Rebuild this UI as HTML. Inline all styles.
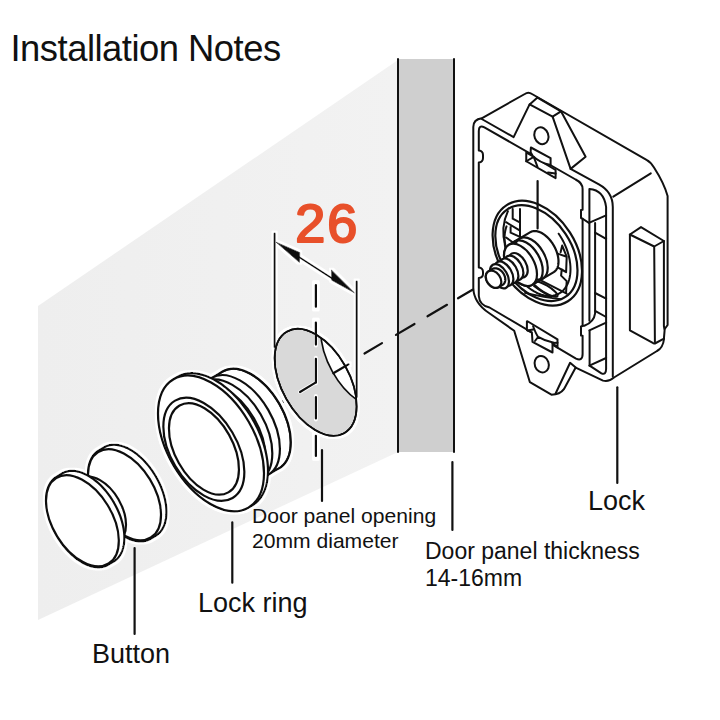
<!DOCTYPE html>
<html><head><meta charset="utf-8">
<style>
html,body{margin:0;padding:0;background:#fff;width:720px;height:720px;overflow:hidden}
svg{display:block}
text{font-family:"Liberation Sans",sans-serif;fill:#111}
</style></head><body>
<svg width="720" height="720" viewBox="0 0 720 720">
<defs><filter id="halo" x="0" y="0" width="720" height="720" filterUnits="userSpaceOnUse">
<feMorphology in="SourceAlpha" operator="dilate" radius="2.2" result="d"/>
<feGaussianBlur in="d" stdDeviation="0.7" result="b"/>
<feFlood flood-color="#fff" result="f"/>
<feComposite in="f" in2="b" operator="in" result="w"/>
<feMerge><feMergeNode in="w"/><feMergeNode in="SourceGraphic"/></feMerge>
</filter></defs>
<linearGradient id="wallg" x1="38" y1="0" x2="398" y2="0" gradientUnits="userSpaceOnUse"><stop offset="0" stop-color="#eeeeee"/><stop offset="1" stop-color="#f2f2f2"/></linearGradient>
<rect width="720" height="720" fill="#fff"/>
<polygon points="38,306 398,60 398,452 38,620" fill="url(#wallg)"/>
<rect x="398" y="59" width="56" height="393" fill="#cfcfcf"/>
<line x1="398" y1="59" x2="398" y2="452" stroke="#111" stroke-width="2" stroke-linecap="round" />
<line x1="454" y1="59" x2="454" y2="452" stroke="#111" stroke-width="2" stroke-linecap="round" />
<line x1="364.5" y1="353.48" x2="382" y2="343.15" stroke="#111" stroke-width="2.2" stroke-linecap="round" />
<line x1="396" y1="334.89" x2="414.5" y2="323.98" stroke="#111" stroke-width="2.2" stroke-linecap="round" />
<line x1="427.5" y1="316.31" x2="447" y2="304.8" stroke="#111" stroke-width="2.2" stroke-linecap="round" />
<line x1="458" y1="298.31" x2="472.5" y2="289.76" stroke="#111" stroke-width="2.2" stroke-linecap="round" />
<line x1="280" y1="403.33" x2="284" y2="400.97" stroke="#111" stroke-width="2.2" stroke-linecap="round" />
<g filter="url(#halo)">
<ellipse cx="315.65" cy="382.30" rx="58.35" ry="33.80" transform="rotate(60.67 315.65 382.30)" fill="#d9d9d9" stroke="#111" stroke-width="1.7" />
<clipPath id="h1"><ellipse cx="0" cy="0" rx="1" ry="1"/></clipPath>
<clipPath id="clipE1"><ellipse cx="315.65" cy="382.30" rx="58.35" ry="33.80" transform="rotate(60.67 315.65 382.30)" fill="#fff" stroke="#111" stroke-width="0" /></clipPath>
<g clip-path="url(#clipE1)"><ellipse cx="361.85" cy="355.00" rx="58.35" ry="33.80" transform="rotate(60.67 361.85 355.00)" fill="#fff" stroke="#111" stroke-width="1.7" /></g>
<ellipse cx="315.65" cy="382.30" rx="58.35" ry="33.80" transform="rotate(60.67 315.65 382.30)" fill="none" stroke="#111" stroke-width="1.7" />
<line x1="333.3" y1="373.3" x2="348.6" y2="364.3" stroke="#111" stroke-width="2.2" stroke-linecap="round" />
<line x1="315.9" y1="284" x2="315.9" y2="307.7" stroke="#fff" stroke-width="3.8" stroke-linecap="round" stroke-linecap="butt"/>
<line x1="315.9" y1="321.5" x2="315.9" y2="345.6" stroke="#fff" stroke-width="3.8" stroke-linecap="round" stroke-linecap="butt"/>
<line x1="315.9" y1="357.75" x2="315.9" y2="383.4" stroke="#fff" stroke-width="3.8" stroke-linecap="round" stroke-linecap="butt"/>
<line x1="315.9" y1="396" x2="315.9" y2="419.5" stroke="#fff" stroke-width="3.8" stroke-linecap="round" stroke-linecap="butt"/>
<line x1="315.9" y1="434.8" x2="315.9" y2="457" stroke="#fff" stroke-width="3.8" stroke-linecap="round" stroke-linecap="butt"/>
<line x1="315.9" y1="382.4" x2="300" y2="392" stroke="#fff" stroke-width="3.8" stroke-linecap="round" />
<line x1="315.9" y1="285" x2="315.9" y2="306.7" stroke="#111" stroke-width="2.2" stroke-linecap="round" stroke-linecap="butt"/>
<line x1="315.9" y1="322.5" x2="315.9" y2="344.6" stroke="#111" stroke-width="2.2" stroke-linecap="round" stroke-linecap="butt"/>
<line x1="315.9" y1="358.75" x2="315.9" y2="382.4" stroke="#111" stroke-width="2.2" stroke-linecap="round" stroke-linecap="butt"/>
<line x1="315.9" y1="397" x2="315.9" y2="418.5" stroke="#111" stroke-width="2.2" stroke-linecap="round" stroke-linecap="butt"/>
<line x1="315.9" y1="435.8" x2="315.9" y2="456" stroke="#111" stroke-width="2.2" stroke-linecap="round" stroke-linecap="butt"/>
<line x1="315.9" y1="382.4" x2="300" y2="392" stroke="#111" stroke-width="2.2" stroke-linecap="round" />
<ellipse cx="315.65" cy="382.30" rx="58.35" ry="33.80" transform="rotate(60.67 315.65 382.30)" fill="none" stroke="#111" stroke-width="1.8" />
<line x1="274.6" y1="233.7" x2="274.6" y2="347" stroke="#111" stroke-width="2.2" stroke-linecap="round" />
<line x1="356.7" y1="281.7" x2="356.7" y2="397" stroke="#111" stroke-width="2.2" stroke-linecap="round" />
<line x1="290" y1="251.2" x2="340" y2="283.5" stroke="#111" stroke-width="1.8" stroke-linecap="round" />
<polygon points="276.1,242.2 299.8,252.6 299.4,262.4" fill="#111" stroke="#111" stroke-width="0.8" stroke-linejoin="round"/>
<polygon points="354.4,292.8 331.5,270 331.7,280.2" fill="#111" stroke="#111" stroke-width="0.8" stroke-linejoin="round"/>
<path d="M290.80,442.45 L290.78,443.80 L290.73,445.09 L290.65,446.33 L290.54,447.51 L290.41,448.64 L290.25,449.72 L290.08,450.75 L289.88,451.73 L289.67,452.67 L289.44,453.57 L289.20,454.42 L288.94,455.24 L288.68,456.03 L288.40,456.78 L288.12,457.49 L287.82,458.18 L287.52,458.84 L287.21,459.47 L286.89,460.07 L286.57,460.65 L286.24,461.20 L285.90,461.74 L285.56,462.25 L285.21,462.74 L284.86,463.21 L284.50,463.66 L284.14,464.10 L283.77,464.52 L283.40,464.92 L283.03,465.30 L282.64,465.68 L282.26,466.03 L281.87,466.38 L281.47,466.71 L281.07,467.02 L280.66,467.33 L280.25,467.62 L279.83,467.90 L279.41,468.17 L253.17,483.64 L252.74,483.89 L252.29,484.12 L251.84,484.35 L251.38,484.56 L250.91,484.76 L250.44,484.95 L249.95,485.13 L249.46,485.30 L248.95,485.45 L248.44,485.60 L247.91,485.73 L247.38,485.85 L246.83,485.96 L246.27,486.06 L245.69,486.14 L245.11,486.21 L244.50,486.27 L243.88,486.31 L243.25,486.33 L242.60,486.34 L241.93,486.33 L241.24,486.30 L240.54,486.26 L239.81,486.19 L239.06,486.10 L238.29,485.99 L237.49,485.85 L236.67,485.69 L235.82,485.50 L234.95,485.28 L234.05,485.02 L233.12,484.73 L232.16,484.41 L231.17,484.04 L230.14,483.63 L229.08,483.18 L227.99,482.67 L226.87,482.12 L225.70,481.51 L224.51,480.84 L223.28,480.10 L222.01,479.30 L220.71,478.43 L219.37,477.49 L218.01,476.47 L216.61,475.37 L215.19,474.19 L213.74,472.92 L212.27,471.56 L210.79,470.12 L209.30,468.58 L207.80,466.96 L206.31,465.26 L204.82,463.47 L203.35,461.60 L201.90,459.66 L200.48,457.66 L199.10,455.59 L197.76,453.47 L196.48,451.32 L195.25,449.13 L194.09,446.91 L192.99,444.69 L191.97,442.47 L191.02,440.26 L190.14,438.06 L189.34,435.90 L188.62,433.77 L187.97,431.68 L187.40,429.64 L186.89,427.66 L186.46,425.73 L186.09,423.86 L185.78,422.06 L185.52,420.32 L185.33,418.65 L185.18,417.05 L185.08,415.50 L185.02,414.03 L185.00,412.61 L185.02,411.26 L185.07,409.96 L185.15,408.73 L185.26,407.55 L185.39,406.42 L185.55,405.34 L185.72,404.31 L185.92,403.33 L186.13,402.39 L186.36,401.49 L186.60,400.63 L186.86,399.82 L187.12,399.03 L187.40,398.28 L187.68,397.57 L187.98,396.88 L188.28,396.22 L188.59,395.59 L188.91,394.99 L189.23,394.41 L189.56,393.85 L189.90,393.32 L190.24,392.81 L190.59,392.32 L190.94,391.85 L191.30,391.40 L191.66,390.96 L192.03,390.54 L192.40,390.14 L192.77,389.75 L193.16,389.38 L193.54,389.02 L193.93,388.68 L194.33,388.35 L194.73,388.04 L195.14,387.73 L195.55,387.44 L195.97,387.16 L196.39,386.89 L222.63,371.41 L223.06,371.17 L223.51,370.93 L223.96,370.71 L224.42,370.50 L224.89,370.30 L225.36,370.11 L225.85,369.93 L226.34,369.76 L226.85,369.61 L227.36,369.46 L227.89,369.33 L228.42,369.21 L228.97,369.10 L229.53,369.00 L230.11,368.92 L230.69,368.85 L231.30,368.79 L231.92,368.75 L232.55,368.73 L233.20,368.72 L233.87,368.73 L234.56,368.75 L235.26,368.80 L235.99,368.87 L236.74,368.96 L237.51,369.07 L238.31,369.20 L239.13,369.37 L239.98,369.56 L240.85,369.78 L241.75,370.04 L242.68,370.32 L243.64,370.65 L244.63,371.02 L245.66,371.43 L246.72,371.88 L247.81,372.38 L248.93,372.94 L250.10,373.55 L251.29,374.22 L252.52,374.95 L253.79,375.75 L255.09,376.62 L256.43,377.57 L257.79,378.59 L259.19,379.69 L260.61,380.87 L262.06,382.14 L263.53,383.50 L265.01,384.94 L266.50,386.47 L268.00,388.09 L269.49,389.80 L270.98,391.59 L272.45,393.45 L273.90,395.39 L275.32,397.40 L276.70,399.47 L278.04,401.58 L279.32,403.74 L280.55,405.93 L281.71,408.14 L282.81,410.37 L283.83,412.59 L284.78,414.80 L285.66,417.00 L286.46,419.16 L287.18,421.29 L287.83,423.38 L288.40,425.42 L288.91,427.40 L289.34,429.33 L289.71,431.19 L290.02,433.00 L290.28,434.73 L290.47,436.41 L290.62,438.01 L290.72,439.55 L290.78,441.03Z" fill="#fff" stroke="#111" stroke-width="2.2" stroke-linejoin="round"/>
<ellipse cx="250.80" cy="419.92" rx="56.09" ry="32.79" transform="rotate(59.77 250.80 419.92)" fill="none" stroke="#111" stroke-width="2.2" />
<ellipse cx="239.90" cy="426.35" rx="56.09" ry="32.79" transform="rotate(59.77 239.90 426.35)" fill="#fff" stroke="#111" stroke-width="2.2" />
<ellipse cx="232.30" cy="430.83" rx="56.09" ry="32.79" transform="rotate(59.77 232.30 430.83)" fill="#fff" stroke="#111" stroke-width="2.2" />
<ellipse cx="225.60" cy="434.79" rx="56.09" ry="32.79" transform="rotate(59.77 225.60 434.79)" fill="#fff" stroke="#111" stroke-width="2.2" />
<ellipse cx="224.00" cy="435.73" rx="56.09" ry="32.79" transform="rotate(59.77 224.00 435.73)" fill="#fff" stroke="#111" stroke-width="1.2" />
<path d="M268.00,470.89 L267.98,472.68 L267.91,474.40 L267.80,476.04 L267.66,477.60 L267.48,479.10 L267.27,480.52 L267.04,481.89 L266.78,483.19 L266.50,484.43 L266.20,485.62 L265.88,486.76 L265.54,487.85 L265.19,488.88 L264.82,489.88 L264.44,490.83 L264.05,491.74 L263.65,492.61 L263.24,493.44 L262.82,494.24 L262.39,495.01 L261.95,495.74 L261.51,496.45 L261.05,497.13 L260.59,497.78 L260.13,498.40 L259.66,499.00 L259.18,499.58 L258.69,500.13 L258.20,500.67 L257.70,501.18 L257.19,501.67 L256.68,502.14 L256.16,502.60 L255.64,503.03 L255.11,503.45 L254.57,503.86 L254.02,504.24 L253.47,504.61 L252.90,504.97 L248.33,507.67 L247.75,507.99 L247.16,508.30 L246.56,508.60 L245.95,508.88 L245.33,509.15 L244.70,509.40 L244.06,509.63 L243.40,509.86 L242.74,510.06 L242.06,510.26 L241.36,510.43 L240.65,510.59 L239.92,510.74 L239.18,510.87 L238.42,510.98 L237.64,511.07 L236.84,511.14 L236.02,511.20 L235.18,511.23 L234.32,511.24 L233.43,511.23 L232.52,511.19 L231.59,511.13 L230.62,511.04 L229.63,510.92 L228.61,510.78 L227.55,510.60 L226.46,510.38 L225.34,510.12 L224.19,509.83 L222.99,509.49 L221.76,509.11 L220.49,508.68 L219.17,508.19 L217.81,507.65 L216.41,507.05 L214.96,506.38 L213.47,505.65 L211.93,504.84 L210.35,503.95 L208.72,502.98 L207.04,501.92 L205.31,500.76 L203.54,499.51 L201.73,498.16 L199.88,496.70 L198.00,495.14 L196.08,493.45 L194.14,491.66 L192.17,489.74 L190.20,487.71 L188.21,485.57 L186.23,483.31 L184.26,480.94 L182.31,478.46 L180.39,475.89 L178.51,473.23 L176.68,470.50 L174.91,467.69 L173.21,464.83 L171.59,461.93 L170.04,459.00 L168.59,456.06 L167.23,453.11 L165.97,450.18 L164.81,447.27 L163.76,444.40 L162.80,441.58 L161.94,438.81 L161.18,436.11 L160.51,433.48 L159.93,430.93 L159.44,428.46 L159.03,426.07 L158.69,423.77 L158.43,421.55 L158.24,419.42 L158.10,417.38 L158.02,415.42 L158.00,413.55 L158.02,411.76 L158.09,410.04 L158.20,408.40 L158.34,406.84 L158.52,405.34 L158.73,403.92 L158.96,402.55 L159.22,401.25 L159.50,400.01 L159.80,398.82 L160.12,397.68 L160.46,396.59 L160.81,395.56 L161.18,394.56 L161.56,393.61 L161.95,392.70 L162.35,391.83 L162.76,391.00 L163.18,390.20 L163.61,389.43 L164.05,388.70 L164.49,387.99 L164.95,387.31 L165.41,386.66 L165.87,386.04 L166.34,385.44 L166.82,384.86 L167.31,384.31 L167.80,383.77 L168.30,383.26 L168.81,382.77 L169.32,382.30 L169.84,381.84 L170.36,381.41 L170.89,380.99 L171.43,380.58 L171.98,380.20 L172.53,379.83 L173.10,379.47 L177.67,376.77 L178.25,376.45 L178.84,376.14 L179.44,375.84 L180.05,375.56 L180.67,375.29 L181.30,375.04 L181.94,374.81 L182.60,374.58 L183.26,374.38 L183.94,374.18 L184.64,374.01 L185.35,373.85 L186.08,373.70 L186.82,373.57 L187.58,373.46 L188.36,373.37 L189.16,373.30 L189.98,373.24 L190.82,373.21 L191.68,373.20 L192.57,373.21 L193.48,373.25 L194.41,373.31 L195.38,373.40 L196.37,373.52 L197.39,373.66 L198.45,373.84 L199.54,374.06 L200.66,374.32 L201.81,374.61 L203.01,374.95 L204.24,375.33 L205.51,375.76 L206.83,376.25 L208.19,376.79 L209.59,377.39 L211.04,378.06 L212.53,378.79 L214.07,379.60 L215.65,380.49 L217.28,381.46 L218.96,382.52 L220.69,383.68 L222.46,384.93 L224.27,386.28 L226.12,387.74 L228.00,389.30 L229.92,390.99 L231.86,392.78 L233.83,394.70 L235.80,396.73 L237.79,398.87 L239.77,401.13 L241.74,403.50 L243.69,405.98 L245.61,408.55 L247.49,411.21 L249.32,413.94 L251.09,416.75 L252.79,419.61 L254.41,422.51 L255.96,425.44 L257.41,428.38 L258.77,431.33 L260.03,434.26 L261.19,437.17 L262.24,440.04 L263.20,442.86 L264.06,445.63 L264.82,448.33 L265.49,450.96 L266.07,453.51 L266.56,455.98 L266.97,458.37 L267.31,460.67 L267.57,462.89 L267.76,465.02 L267.90,467.06 L267.98,469.02Z" fill="#fff" stroke="#111" stroke-width="2.2" stroke-linejoin="round"/>
<ellipse cx="211.00" cy="443.40" rx="74.32" ry="43.44" transform="rotate(59.77 211.00 443.40)" fill="#fff" stroke="#111" stroke-width="2.2" />
<ellipse cx="203.85" cy="449.30" rx="56.52" ry="33.14" transform="rotate(59.44 203.85 449.30)" fill="#fff" stroke="#111" stroke-width="2.2" />
<ellipse cx="203.95" cy="448.95" rx="49.78" ry="28.82" transform="rotate(60.71 203.95 448.95)" fill="#fff" stroke="#111" stroke-width="2.2" />
<path d="M166.50,512.01 L166.48,513.24 L166.44,514.42 L166.36,515.55 L166.26,516.63 L166.14,517.66 L166.00,518.64 L165.84,519.58 L165.66,520.48 L165.47,521.34 L165.26,522.15 L165.04,522.94 L164.81,523.68 L164.56,524.40 L164.31,525.08 L164.05,525.74 L163.78,526.36 L163.51,526.96 L163.22,527.54 L162.93,528.09 L162.64,528.62 L162.33,529.12 L162.03,529.61 L161.72,530.08 L161.40,530.52 L161.08,530.95 L160.75,531.37 L160.42,531.76 L160.09,532.15 L159.75,532.51 L159.41,532.87 L159.06,533.20 L158.71,533.53 L158.35,533.84 L157.99,534.14 L157.62,534.43 L157.25,534.71 L156.87,534.98 L156.49,535.23 L156.10,535.48 L150.21,539.01 L149.81,539.23 L149.40,539.45 L148.99,539.65 L148.57,539.84 L148.14,540.03 L147.71,540.20 L147.27,540.36 L146.82,540.52 L146.36,540.66 L145.89,540.79 L145.41,540.91 L144.92,541.03 L144.42,541.12 L143.91,541.21 L143.38,541.29 L142.85,541.35 L142.30,541.40 L141.73,541.44 L141.15,541.46 L140.56,541.47 L139.95,541.46 L139.32,541.44 L138.68,541.39 L138.01,541.33 L137.33,541.25 L136.62,541.15 L135.90,541.03 L135.15,540.88 L134.38,540.70 L133.58,540.50 L132.76,540.27 L131.91,540.00 L131.03,539.71 L130.13,539.37 L129.19,539.00 L128.23,538.58 L127.23,538.12 L126.20,537.62 L125.14,537.06 L124.05,536.45 L122.93,535.78 L121.77,535.05 L120.58,534.26 L119.36,533.39 L118.12,532.46 L116.84,531.46 L115.55,530.38 L114.23,529.22 L112.89,527.98 L111.53,526.67 L110.17,525.27 L108.81,523.79 L107.44,522.23 L106.08,520.60 L104.74,518.90 L103.42,517.13 L102.13,515.30 L100.87,513.41 L99.65,511.48 L98.48,509.51 L97.36,507.51 L96.29,505.49 L95.29,503.47 L94.36,501.44 L93.49,499.42 L92.69,497.42 L91.96,495.44 L91.30,493.50 L90.71,491.59 L90.19,489.73 L89.73,487.92 L89.33,486.16 L88.99,484.46 L88.71,482.82 L88.48,481.23 L88.30,479.70 L88.16,478.24 L88.07,476.83 L88.02,475.48 L88.00,474.19 L88.02,472.96 L88.06,471.78 L88.14,470.65 L88.24,469.57 L88.36,468.54 L88.50,467.56 L88.66,466.62 L88.84,465.72 L89.03,464.86 L89.24,464.05 L89.46,463.26 L89.69,462.52 L89.94,461.80 L90.19,461.12 L90.45,460.46 L90.72,459.84 L90.99,459.24 L91.28,458.66 L91.57,458.11 L91.86,457.58 L92.17,457.08 L92.47,456.59 L92.78,456.12 L93.10,455.68 L93.42,455.25 L93.75,454.83 L94.08,454.44 L94.41,454.05 L94.75,453.69 L95.09,453.33 L95.44,453.00 L95.79,452.67 L96.15,452.36 L96.51,452.06 L96.88,451.77 L97.25,451.49 L97.63,451.22 L98.01,450.97 L98.40,450.72 L104.29,447.19 L104.69,446.97 L105.10,446.75 L105.51,446.55 L105.93,446.36 L106.36,446.17 L106.79,446.00 L107.23,445.84 L107.68,445.68 L108.14,445.54 L108.61,445.41 L109.09,445.29 L109.58,445.17 L110.08,445.08 L110.59,444.99 L111.12,444.91 L111.65,444.85 L112.20,444.80 L112.77,444.76 L113.35,444.74 L113.94,444.73 L114.55,444.74 L115.18,444.76 L115.82,444.81 L116.49,444.87 L117.17,444.95 L117.88,445.05 L118.60,445.17 L119.35,445.32 L120.12,445.50 L120.92,445.70 L121.74,445.93 L122.59,446.20 L123.47,446.49 L124.37,446.83 L125.31,447.20 L126.27,447.62 L127.27,448.08 L128.30,448.58 L129.36,449.14 L130.45,449.75 L131.57,450.42 L132.73,451.15 L133.92,451.94 L135.14,452.81 L136.38,453.74 L137.66,454.74 L138.95,455.82 L140.27,456.98 L141.61,458.22 L142.97,459.53 L144.33,460.93 L145.69,462.41 L147.06,463.97 L148.42,465.60 L149.76,467.30 L151.08,469.07 L152.37,470.90 L153.63,472.79 L154.85,474.72 L156.02,476.69 L157.14,478.69 L158.21,480.71 L159.21,482.73 L160.14,484.76 L161.01,486.78 L161.81,488.78 L162.54,490.76 L163.20,492.70 L163.79,494.61 L164.31,496.47 L164.77,498.28 L165.17,500.04 L165.51,501.74 L165.79,503.38 L166.02,504.97 L166.20,506.50 L166.34,507.96 L166.43,509.37 L166.48,510.72Z" fill="#fff" stroke="#111" stroke-width="2.2" stroke-linejoin="round"/>
<ellipse cx="124.50" cy="494.75" rx="50.20" ry="29.71" transform="rotate(58.40 124.50 494.75)" fill="#fff" stroke="#111" stroke-width="2.2" />
<ellipse cx="100.00" cy="510.00" rx="36.46" ry="21.31" transform="rotate(59.77 100.00 510.00)" fill="#fff" stroke="#111" stroke-width="2.2" />
<path d="M124.40,537.90 L124.38,539.13 L124.34,540.31 L124.26,541.43 L124.17,542.51 L124.04,543.54 L123.90,544.52 L123.74,545.45 L123.56,546.35 L123.37,547.20 L123.16,548.02 L122.94,548.80 L122.71,549.55 L122.47,550.26 L122.22,550.94 L121.96,551.59 L121.69,552.22 L121.41,552.82 L121.13,553.39 L120.84,553.94 L120.55,554.47 L120.25,554.97 L119.94,555.45 L119.63,555.92 L119.31,556.37 L118.99,556.80 L118.67,557.21 L118.34,557.60 L118.01,557.98 L117.67,558.35 L117.33,558.70 L116.98,559.04 L116.63,559.36 L116.27,559.68 L115.91,559.98 L115.54,560.27 L115.17,560.54 L114.80,560.81 L114.42,561.06 L114.03,561.31 L108.04,564.89 L107.64,565.11 L107.24,565.33 L106.82,565.53 L106.41,565.72 L105.98,565.90 L105.55,566.08 L105.11,566.24 L104.66,566.39 L104.20,566.53 L103.73,566.67 L103.25,566.79 L102.76,566.90 L102.26,567.00 L101.75,567.09 L101.23,567.16 L100.70,567.22 L100.15,567.27 L99.59,567.31 L99.01,567.33 L98.42,567.34 L97.81,567.33 L97.18,567.31 L96.54,567.27 L95.88,567.21 L95.19,567.13 L94.49,567.02 L93.77,566.90 L93.02,566.75 L92.25,566.58 L91.46,566.37 L90.64,566.14 L89.79,565.88 L88.91,565.58 L88.01,565.25 L87.08,564.88 L86.12,564.46 L85.12,564.01 L84.10,563.50 L83.04,562.94 L81.95,562.33 L80.83,561.67 L79.68,560.94 L78.49,560.15 L77.28,559.29 L76.04,558.36 L74.76,557.36 L73.47,556.28 L72.15,555.13 L70.82,553.89 L69.47,552.58 L68.11,551.18 L66.75,549.71 L65.39,548.16 L64.03,546.53 L62.70,544.83 L61.38,543.07 L60.09,541.24 L58.83,539.36 L57.62,537.43 L56.45,535.47 L55.33,533.48 L54.27,531.46 L53.27,529.44 L52.34,527.42 L51.48,525.41 L50.68,523.41 L49.95,521.44 L49.29,519.50 L48.70,517.60 L48.18,515.75 L47.72,513.94 L47.33,512.19 L46.99,510.49 L46.71,508.85 L46.48,507.27 L46.30,505.75 L46.16,504.28 L46.07,502.88 L46.02,501.54 L46.00,500.25 L46.02,499.02 L46.06,497.84 L46.14,496.72 L46.23,495.64 L46.36,494.61 L46.50,493.63 L46.66,492.70 L46.84,491.80 L47.03,490.95 L47.24,490.13 L47.46,489.35 L47.69,488.60 L47.93,487.89 L48.18,487.21 L48.44,486.56 L48.71,485.93 L48.99,485.33 L49.27,484.76 L49.56,484.21 L49.85,483.68 L50.15,483.18 L50.46,482.70 L50.77,482.23 L51.09,481.78 L51.41,481.35 L51.73,480.94 L52.06,480.55 L52.39,480.17 L52.73,479.80 L53.07,479.45 L53.42,479.11 L53.77,478.79 L54.13,478.47 L54.49,478.17 L54.86,477.88 L55.23,477.61 L55.60,477.34 L55.98,477.09 L56.37,476.84 L62.36,473.26 L62.76,473.04 L63.16,472.82 L63.58,472.62 L63.99,472.43 L64.42,472.25 L64.85,472.07 L65.29,471.91 L65.74,471.76 L66.20,471.62 L66.67,471.48 L67.15,471.36 L67.64,471.25 L68.14,471.15 L68.65,471.06 L69.17,470.99 L69.70,470.93 L70.25,470.88 L70.81,470.84 L71.39,470.82 L71.98,470.81 L72.59,470.82 L73.22,470.84 L73.86,470.88 L74.52,470.94 L75.21,471.02 L75.91,471.13 L76.63,471.25 L77.38,471.40 L78.15,471.57 L78.94,471.78 L79.76,472.01 L80.61,472.27 L81.49,472.57 L82.39,472.90 L83.32,473.27 L84.28,473.69 L85.28,474.14 L86.30,474.65 L87.36,475.21 L88.45,475.82 L89.57,476.48 L90.72,477.21 L91.91,478.00 L93.12,478.86 L94.36,479.79 L95.64,480.79 L96.93,481.87 L98.25,483.02 L99.58,484.26 L100.93,485.57 L102.29,486.97 L103.65,488.44 L105.01,489.99 L106.37,491.62 L107.70,493.32 L109.02,495.08 L110.31,496.91 L111.57,498.79 L112.78,500.72 L113.95,502.68 L115.07,504.67 L116.13,506.69 L117.13,508.71 L118.06,510.73 L118.92,512.74 L119.72,514.74 L120.45,516.71 L121.11,518.65 L121.70,520.55 L122.22,522.40 L122.68,524.21 L123.07,525.96 L123.41,527.66 L123.69,529.30 L123.92,530.88 L124.10,532.40 L124.24,533.87 L124.33,535.27 L124.38,536.61Z" fill="#fff" stroke="#111" stroke-width="2.2" stroke-linejoin="round"/>
<ellipse cx="82.40" cy="520.75" rx="50.16" ry="29.65" transform="rotate(58.54 82.40 520.75)" fill="#fff" stroke="#111" stroke-width="2.2" />
</g>
<line x1="322" y1="450" x2="322" y2="501" stroke="#111" stroke-width="2.2" stroke-linecap="round" />
<line x1="452.4" y1="462" x2="452.4" y2="530" stroke="#111" stroke-width="2.2" stroke-linecap="round" />
<line x1="232.3" y1="522.4" x2="232.3" y2="582.7" stroke="#111" stroke-width="2.2" stroke-linecap="round" />
<line x1="134.6" y1="548" x2="134.6" y2="634" stroke="#111" stroke-width="2.2" stroke-linecap="round" />
<line x1="617.3" y1="387.3" x2="617.3" y2="483" stroke="#111" stroke-width="2.2" stroke-linecap="round" />
<g fill="none" stroke="#111" stroke-width="2" stroke-linejoin="round" stroke-linecap="round">
<path fill="#fff" d="M473.3,288 L473.3,127 Q473.3,119.5 481.7,118.3 L524.8,94 Q528.3,91.4 532,94 L646.5,159.9 Q650.5,162 654,167.5 Q664,183 667.6,196 L667.6,325 L664,330 L664,339 Q663,348 657,351 L614,377.5 Q609,382 603,380.6 L575.7,367.6 L563.9,389.2 Q560,394.7 551.4,394.7 L529.9,382.2 L514.2,330.8 L489,313 Q473.8,303 473.3,288 Z"/>
<path d="M481.7,119 L513.6,137.1 L529.6,104.4 L537.5,97.6"/>
<path d="M529.6,104.4 L552.6,116.7 L561,111.3 L537.5,97.6"/>
<path d="M552.6,116.7 L570.6,168.9 L585.6,156.7 L561,111.3"/>
<path d="M570.6,168.9 L598.9,184.4 Q612.8,192 612.8,207 L612.8,376.5"/>
<path d="M613.3,196.7 L650.8,173.3"/>
<path d="M478.8,131 L478.8,150.5 Q483,151 483,155 L483,158 Q483,162 478.8,162.5 L478.8,267.5 Q483,268 483,272 L483,274 Q483,277.5 478.8,278 L478.8,296 Q479.5,305.5 489.5,307.5 L576,358.6 Q582.6,361.5 582.6,354 L582.6,335.8 L581,335.5 L581,326.5 L582.6,326 L582.6,218.75 L581,218 L581,210 L582.6,209.7 L582.6,189 Q582.6,183 575.6,179.5 L484.4,127.4 Q478.8,124.5 478.8,131 Z"/>
<path d="M555.6,393.5 L570.1,362.8 L575.7,367.6"/>
<path d="M589.4,320.8 L589.4,188.9 Q604,190 606.1,207 L606.1,369 Q606,375.5 601.4,373.3 L589.6,365.7 L589.6,330.8"/>
<path d="M582.6,218.75 L588.9,222.9 L606.1,215.3"/>
<path d="M595.1,222.9 L595.1,313.3 Q594,322 584.3,325.8 L582.6,325.8"/>
<path d="M595.1,232.6 L606.1,238.9 M595.1,293 L606.1,298.6 M595.1,310.8 L606.1,317 M589.4,330.3 L606.1,322.6 M589.4,365.7 L606.1,358"/>
<path fill="#fff" d="M629.9,234.5 L641,227.1 L663.9,241 L663.9,326 L664.6,330.3 L663.9,338.6 L654.9,343.5 Q653.5,343.8 652.8,342.8 L629.9,330.3 Z"/>
<path d="M629.9,234.5 L654.2,246.5 L663.9,241 M654.2,246.5 L654.9,342"/>
<ellipse cx="541.4" cy="135.7" rx="6.9" ry="8.6" transform="rotate(-20 541.4 135.7)"/>
<ellipse cx="541.7" cy="364.2" rx="7.0" ry="8.4" transform="rotate(-20 541.7 364.2)"/>
<path fill="#fff" d="M526.25,152.5 L526.25,161.25 L555.6,178.1 L555.6,170 Z"/>
<path fill="#fff" d="M530.9,147.5 L550.6,158.1 L550.6,165 Q540,163 532.5,155.6 L530.6,152.2 Z"/>
<path d="M526.25,161.25 L533.75,156.9 L537.5,166.9 M548,172.5 L555.6,173.6"/>
<path fill="#fff" d="M527.5,321.25 L557.5,339.4 L557.5,347.5 L552.5,343.1 L552.5,352.5 L532.5,341.9 L531.9,332.5 L526.9,330 L526.9,321.5 Z"/>
<path d="M533.1,326.25 Q536,334 538.1,336.9 Q545,341 553.75,342.8 M527.5,330.6 L533.1,329.4 M535,341 L538.1,337 M552.5,343.1 L557.5,342.8"/>
</g>
<ellipse cx="537.30" cy="253.15" rx="56.98" ry="38.62" transform="rotate(57.51 537.30 253.15)" fill="#fff" stroke="#111" stroke-width="2.2" />
<ellipse cx="536.40" cy="253.15" rx="52.52" ry="34.93" transform="rotate(56.49 536.40 253.15)" fill="#fff" stroke="#111" stroke-width="2.2" />
<path d="M558.71,233.70 L560.49,236.43 L562.15,239.25 L563.68,242.14 L565.07,245.10 L566.32,248.11 L567.41,251.14 L568.34,254.20 L569.11,257.25 L569.72,260.28 L570.15,263.28 L570.41,266.23 L570.50,269.12 L570.41,271.93 L570.15,274.64 L569.72,277.24 L569.11,279.72 L568.34,282.07 L567.41,284.26 L566.32,286.30 L565.07,288.16 L563.68,289.85 L562.15,291.34 L560.49,292.64 L558.71,293.74 L556.82,294.62 L554.82,295.29 L552.74,295.74 L550.57,295.97 L548.33,295.98 L546.04,295.76 L543.70,295.33 L541.33,294.67 L538.94,293.81 L536.54,292.73 L534.15,291.44 L531.77,289.96 L529.42,288.29 L527.12,286.44 L524.87,284.42 L522.69,282.23 L520.59,279.90 L518.57,277.43 L516.66,274.83 L514.85,272.13 L513.17,269.32 L511.61,266.44 L510.20,263.50 L508.92,260.50 L507.80,257.47 L506.83,254.42 L506.03,251.36 L505.39,248.32 L504.92,245.32 L504.63,242.35 L504.50,239.45 L504.56,236.63 L504.78,233.89 L505.18,231.27 L505.75,228.76 L506.49,226.39" fill="none" stroke="#111" stroke-width="2" stroke-linejoin="round" stroke-linecap="round" />
<path d="M508.2,210.4 Q500,228 505.4,245.1" fill="none" stroke="#111" stroke-width="2"/>
<path d="M512.7,209 L512.7,218.75 L519.3,222.2 M520,209 L520,237.5 M506.1,222.2 L520,230.6 M510.6,227 L510.6,232.6 L520,236.8 M506.1,237.5 L513.75,243" fill="none" stroke="#111" stroke-width="2" stroke-linecap="round"/>
<path d="M562.2,245.6 L566.7,256.7 L566.1,272.2 L561.7,269.4 L561.1,275.6 L566.7,281.1 L566.1,292.2 M558.3,253.9 L566.7,256.7 M558.6,267.8 L566.1,272.2 M562.2,245.6 L560.6,252.2" fill="none" stroke="#111" stroke-width="2" stroke-linejoin="round" stroke-linecap="round"/>
<path d="M538.9,279.4 L566.7,293.6 M534,286 Q543,293 551.4,296.4 M525,292.9 Q545,297.5 561.1,299.2" fill="none" stroke="#111" stroke-width="2" stroke-linecap="round"/>
<ellipse cx="545.3" cy="288.8" rx="14.2" ry="3.6" transform="rotate(31 545.3 288.8)" fill="none" stroke="#111" stroke-width="2"/>
<line x1="537.6" y1="181" x2="537.6" y2="228.5" stroke="#111" stroke-width="2.2" stroke-linecap="round" />
<path d="M558.50,261.46 L558.49,262.02 L558.47,262.55 L558.44,263.06 L558.39,263.55 L558.34,264.01 L558.27,264.46 L558.20,264.88 L558.12,265.29 L558.03,265.67 L557.94,266.04 L557.84,266.40 L557.73,266.74 L557.62,267.06 L557.51,267.37 L557.39,267.66 L557.27,267.95 L557.15,268.22 L557.02,268.48 L556.89,268.73 L556.75,268.97 L556.62,269.20 L556.48,269.41 L556.34,269.63 L556.19,269.83 L556.05,270.02 L555.90,270.21 L555.75,270.39 L555.60,270.56 L555.45,270.73 L555.29,270.89 L555.14,271.04 L554.98,271.19 L554.82,271.33 L554.65,271.46 L554.49,271.60 L554.32,271.72 L554.15,271.84 L553.98,271.96 L553.80,272.07 L532.12,284.86 L531.94,284.96 L531.76,285.06 L531.57,285.15 L531.38,285.23 L531.19,285.32 L530.99,285.40 L530.79,285.47 L530.59,285.54 L530.38,285.60 L530.17,285.66 L529.95,285.72 L529.73,285.77 L529.50,285.81 L529.27,285.85 L529.04,285.89 L528.79,285.92 L528.54,285.94 L528.29,285.96 L528.03,285.97 L527.76,285.97 L527.48,285.97 L527.20,285.95 L526.91,285.94 L526.61,285.91 L526.30,285.87 L525.98,285.83 L525.65,285.77 L525.31,285.70 L524.97,285.62 L524.61,285.53 L524.23,285.43 L523.85,285.31 L523.45,285.17 L523.04,285.02 L522.62,284.85 L522.18,284.66 L521.73,284.46 L521.27,284.23 L520.79,283.98 L520.30,283.70 L519.79,283.40 L519.27,283.07 L518.73,282.71 L518.18,282.32 L517.61,281.90 L517.04,281.44 L516.45,280.96 L515.86,280.43 L515.25,279.87 L514.64,279.28 L514.02,278.65 L513.41,277.98 L512.79,277.27 L512.18,276.54 L511.57,275.77 L510.97,274.97 L510.39,274.14 L509.82,273.29 L509.27,272.41 L508.74,271.52 L508.23,270.62 L507.75,269.71 L507.30,268.79 L506.87,267.87 L506.48,266.96 L506.12,266.06 L505.79,265.16 L505.49,264.28 L505.23,263.42 L504.99,262.58 L504.78,261.76 L504.60,260.97 L504.45,260.20 L504.32,259.45 L504.22,258.74 L504.13,258.05 L504.07,257.39 L504.03,256.75 L504.01,256.14 L504.00,255.56 L504.01,255.00 L504.03,254.46 L504.06,253.95 L504.11,253.47 L504.16,253.00 L504.23,252.56 L504.30,252.13 L504.38,251.73 L504.47,251.34 L504.56,250.97 L504.66,250.62 L504.77,250.28 L504.88,249.95 L504.99,249.65 L505.11,249.35 L505.23,249.07 L505.35,248.80 L505.48,248.54 L505.61,248.29 L505.75,248.05 L505.88,247.82 L506.02,247.60 L506.16,247.39 L506.31,247.19 L506.45,246.99 L506.60,246.80 L506.75,246.63 L506.90,246.45 L507.05,246.29 L507.21,246.13 L507.36,245.97 L507.52,245.83 L507.68,245.69 L507.85,245.55 L508.01,245.42 L508.18,245.29 L508.35,245.17 L508.52,245.06 L508.70,244.95 L530.38,232.16 L530.56,232.06 L530.74,231.96 L530.93,231.87 L531.12,231.78 L531.31,231.70 L531.51,231.62 L531.71,231.54 L531.91,231.47 L532.12,231.41 L532.33,231.35 L532.55,231.30 L532.77,231.25 L533.00,231.20 L533.23,231.16 L533.46,231.13 L533.71,231.10 L533.96,231.07 L534.21,231.06 L534.47,231.05 L534.74,231.04 L535.02,231.05 L535.30,231.06 L535.59,231.08 L535.89,231.11 L536.20,231.14 L536.52,231.19 L536.85,231.25 L537.19,231.31 L537.53,231.39 L537.89,231.48 L538.27,231.59 L538.65,231.71 L539.05,231.84 L539.46,231.99 L539.88,232.16 L540.32,232.35 L540.77,232.56 L541.23,232.79 L541.71,233.04 L542.20,233.31 L542.71,233.62 L543.23,233.95 L543.77,234.31 L544.32,234.69 L544.89,235.12 L545.46,235.57 L546.05,236.06 L546.64,236.58 L547.25,237.14 L547.86,237.74 L548.48,238.37 L549.09,239.04 L549.71,239.74 L550.32,240.48 L550.93,241.25 L551.53,242.05 L552.11,242.88 L552.68,243.73 L553.23,244.60 L553.76,245.49 L554.27,246.40 L554.75,247.31 L555.20,248.22 L555.63,249.14 L556.02,250.05 L556.38,250.96 L556.71,251.85 L557.01,252.73 L557.27,253.59 L557.51,254.43 L557.72,255.25 L557.90,256.05 L558.05,256.82 L558.18,257.56 L558.28,258.28 L558.37,258.97 L558.43,259.63 L558.47,260.26 L558.49,260.87Z" fill="#fff" stroke="#111" stroke-width="2.2" stroke-linejoin="round"/>
<ellipse cx="531.25" cy="258.51" rx="23.14" ry="13.52" transform="rotate(59.77 531.25 258.51)" fill="none" stroke="#111" stroke-width="2.2" />
<ellipse cx="526.25" cy="261.46" rx="23.14" ry="13.52" transform="rotate(59.77 526.25 261.46)" fill="none" stroke="#111" stroke-width="2.2" />
<ellipse cx="520.50" cy="264.85" rx="23.14" ry="13.52" transform="rotate(59.77 520.50 264.85)" fill="#fff" stroke="#111" stroke-width="2.2" />
<ellipse cx="518.25" cy="265.18" rx="13.32" ry="7.79" transform="rotate(59.77 518.25 265.18)" fill="#fff" stroke="#111" stroke-width="2.2" />
<ellipse cx="513.90" cy="267.74" rx="13.32" ry="7.79" transform="rotate(59.77 513.90 267.74)" fill="#fff" stroke="#111" stroke-width="2.2" />
<ellipse cx="508.90" cy="270.69" rx="13.32" ry="7.79" transform="rotate(59.77 508.90 270.69)" fill="#fff" stroke="#111" stroke-width="2.2" />
<ellipse cx="503.90" cy="273.64" rx="13.32" ry="7.79" transform="rotate(59.77 503.90 273.64)" fill="#fff" stroke="#111" stroke-width="2.2" />
<ellipse cx="499.50" cy="276.24" rx="13.32" ry="7.79" transform="rotate(59.77 499.50 276.24)" fill="#fff" stroke="#111" stroke-width="2.2" />
<path d="M505.30,279.51 L505.30,279.74 L505.29,279.96 L505.27,280.17 L505.26,280.38 L505.23,280.58 L505.20,280.78 L505.17,280.97 L505.13,281.16 L505.09,281.33 L505.05,281.51 L505.00,281.68 L504.95,281.84 L504.90,282.00 L504.84,282.16 L504.78,282.31 L504.72,282.45 L504.65,282.59 L504.58,282.73 L504.51,282.86 L504.44,282.99 L504.37,283.12 L504.29,283.24 L504.21,283.36 L504.13,283.47 L504.05,283.58 L503.97,283.69 L503.88,283.79 L503.79,283.89 L503.70,283.99 L503.61,284.08 L503.52,284.17 L503.42,284.26 L503.32,284.35 L503.22,284.43 L503.12,284.51 L503.02,284.59 L502.91,284.66 L502.81,284.73 L502.70,284.80 L498.64,287.20 L498.52,287.26 L498.41,287.32 L498.29,287.38 L498.17,287.44 L498.05,287.49 L497.92,287.54 L497.80,287.58 L497.67,287.63 L497.54,287.67 L497.40,287.71 L497.26,287.74 L497.12,287.77 L496.98,287.80 L496.83,287.83 L496.68,287.85 L496.53,287.87 L496.38,287.88 L496.22,287.89 L496.06,287.90 L495.89,287.90 L495.72,287.90 L495.55,287.89 L495.37,287.88 L495.19,287.86 L495.01,287.84 L494.82,287.81 L494.63,287.78 L494.43,287.74 L494.23,287.70 L494.03,287.64 L493.82,287.59 L493.61,287.52 L493.39,287.45 L493.17,287.37 L492.95,287.28 L492.72,287.18 L492.50,287.08 L492.26,286.96 L492.03,286.84 L491.79,286.70 L491.55,286.56 L491.31,286.41 L491.07,286.25 L490.83,286.08 L490.59,285.90 L490.34,285.71 L490.10,285.50 L489.86,285.29 L489.62,285.07 L489.39,284.84 L489.16,284.61 L488.93,284.36 L488.71,284.11 L488.49,283.84 L488.28,283.58 L488.07,283.30 L487.87,283.02 L487.68,282.74 L487.50,282.45 L487.33,282.16 L487.16,281.86 L487.01,281.57 L486.86,281.27 L486.72,280.97 L486.60,280.68 L486.48,280.38 L486.37,280.09 L486.27,279.80 L486.18,279.51 L486.10,279.22 L486.03,278.94 L485.97,278.67 L485.91,278.40 L485.87,278.13 L485.83,277.87 L485.80,277.62 L485.78,277.37 L485.76,277.12 L485.75,276.89 L485.75,276.66 L485.75,276.43 L485.76,276.21 L485.78,276.00 L485.79,275.79 L485.82,275.59 L485.85,275.39 L485.88,275.20 L485.92,275.01 L485.96,274.83 L486.00,274.66 L486.05,274.49 L486.10,274.33 L486.15,274.17 L486.21,274.01 L486.27,273.86 L486.33,273.72 L486.40,273.58 L486.47,273.44 L486.54,273.31 L486.61,273.18 L486.68,273.05 L486.76,272.93 L486.84,272.81 L486.92,272.70 L487.00,272.59 L487.08,272.48 L487.17,272.38 L487.26,272.28 L487.35,272.18 L487.44,272.09 L487.53,272.00 L487.63,271.91 L487.73,271.82 L487.83,271.74 L487.93,271.66 L488.03,271.58 L488.14,271.51 L488.24,271.44 L488.35,271.37 L492.41,268.97 L492.53,268.91 L492.64,268.85 L492.76,268.79 L492.88,268.73 L493.00,268.68 L493.13,268.63 L493.25,268.59 L493.38,268.54 L493.51,268.50 L493.65,268.46 L493.79,268.43 L493.93,268.40 L494.07,268.37 L494.22,268.34 L494.37,268.32 L494.52,268.30 L494.67,268.29 L494.83,268.28 L494.99,268.27 L495.16,268.27 L495.33,268.27 L495.50,268.28 L495.68,268.29 L495.86,268.31 L496.04,268.33 L496.23,268.36 L496.42,268.39 L496.62,268.43 L496.82,268.47 L497.02,268.52 L497.23,268.58 L497.44,268.65 L497.66,268.72 L497.88,268.80 L498.10,268.89 L498.33,268.99 L498.55,269.09 L498.79,269.21 L499.02,269.33 L499.26,269.46 L499.50,269.61 L499.74,269.76 L499.98,269.92 L500.22,270.09 L500.46,270.27 L500.71,270.46 L500.95,270.67 L501.19,270.88 L501.43,271.10 L501.66,271.32 L501.89,271.56 L502.12,271.81 L502.34,272.06 L502.56,272.32 L502.77,272.59 L502.98,272.87 L503.18,273.15 L503.37,273.43 L503.55,273.72 L503.72,274.01 L503.89,274.31 L504.04,274.60 L504.19,274.90 L504.33,275.20 L504.45,275.49 L504.57,275.79 L504.68,276.08 L504.78,276.37 L504.87,276.66 L504.95,276.95 L505.02,277.23 L505.08,277.50 L505.14,277.77 L505.18,278.04 L505.22,278.30 L505.25,278.55 L505.27,278.80 L505.29,279.05 L505.30,279.28Z" fill="#fff" stroke="#111" stroke-width="2.2" stroke-linejoin="round"/>
<ellipse cx="493.55" cy="279.25" rx="9.45" ry="6.81" transform="rotate(54.53 493.55 279.25)" fill="#fff" stroke="#111" stroke-width="2.2" />

<text x="10.5" y="61.3" font-size="36.4" letter-spacing="-0.5">Installation Notes</text>
<text x="295.3" y="242" font-size="54" letter-spacing="1.8" style="fill:#e8502a;stroke:#e8502a;stroke-width:2.1;stroke-linejoin:round">26</text>
<text x="252" y="523" font-size="21.1">Door panel opening</text>
<text x="252" y="548" font-size="21.1">20mm diameter</text>
<text x="425" y="558.5" font-size="23">Door panel thickness</text>
<text x="425" y="586" font-size="23">14-16mm</text>
<text x="588" y="510" font-size="27">Lock</text>
<text x="198" y="612" font-size="27">Lock ring</text>
<text x="92" y="663" font-size="27">Button</text>

</svg>
</body></html>
